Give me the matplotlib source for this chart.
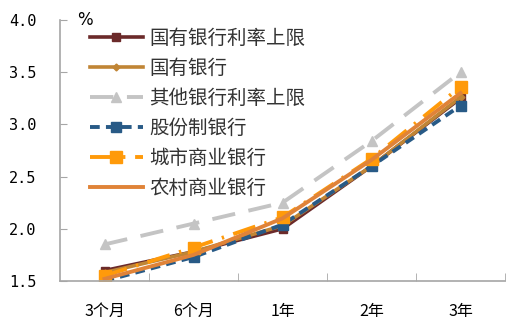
import matplotlib
matplotlib.use("Agg")
import matplotlib.pyplot as plt
from matplotlib.ticker import FixedLocator, MultipleLocator

plt.rcParams['font.family'] = ['Noto Sans CJK SC', 'DejaVu Sans']

categories = ["3个月", "6个月", "1年", "2年", "3年"]
state_cap = [1.60, 1.78, 2.00, 2.60, 3.25]
state_banks = [1.58, 1.78, 2.03, 2.60, 3.26]
other_cap = [1.85, 2.05, 2.25, 2.84, 3.50]
joint_stock = [1.50, 1.73, 2.04, 2.60, 3.18]
city_banks = [1.55, 1.82, 2.11, 2.67, 3.36]
rural_banks = [1.52, 1.75, 2.10, 2.66, 3.30]

series = [
    ("国有银行利率上限", state_cap, dict(color="#6B2A2A", lw=2.6, ls="-", marker="s", ms=6)),
    ("国有银行", state_banks, dict(color="#C08535", lw=2.6, ls="-", marker="D", ms=3.5)),
    ("其他银行利率上限", other_cap, dict(color="#C4C4C4", lw=2.8, ls=(0, (6, 3.5)), marker="^", ms=7)),
    ("股份制银行", joint_stock, dict(color="#285A86", lw=2.8, ls=(0, (2.5, 1.6)), marker="s", ms=7)),
    ("城市商业银行", city_banks, dict(color="#FF9A0A", lw=2.8, ls=(0, (6, 2.5, 0.6, 2.5)), marker="s", ms=8)),
    ("农村商业银行", rural_banks, dict(color="#E08338", lw=2.8, ls="-")),
]

fig = plt.figure(figsize=(5.16, 3.32), dpi=100)
ax = fig.add_axes([60 / 516, 51 / 332, 445 / 516, 261 / 332])

x = list(range(len(categories)))
for label, vals, style in series:
    ax.plot(x, vals, label=label, **style)

ax.set_xlim(-0.5, len(categories) - 0.5)
ax.set_ylim(1.5, 4.0)
ax.yaxis.set_major_locator(MultipleLocator(0.5))
ax.yaxis.set_major_formatter(matplotlib.ticker.FormatStrFormatter("%.1f"))

ax.set_xticks(x)
ax.set_xticklabels(categories)
ax.xaxis.set_minor_locator(FixedLocator([i + 0.5 for i in x]))
ax.tick_params(axis="x", which="major", length=0, pad=16, labelsize=11.5)
ax.tick_params(axis="x", which="minor", direction="in", length=6, color="#A6A6A6")
ax.tick_params(axis="y", direction="in", length=5, color="#A6A6A6", labelsize=11, pad=17)
for lbl in ax.get_yticklabels():
    lbl.set_family(["DejaVu Sans Mono"])

for side in ("top", "right"):
    ax.spines[side].set_visible(False)
for side in ("left", "bottom"):
    ax.spines[side].set_color("#A6A6A6")
    ax.spines[side].set_linewidth(1.2)

ax.text(85 / 516, 1 - 20 / 332, "%", transform=fig.transFigure, fontsize=12,
        ha="center", va="center", family=["DejaVu Sans"])

leg = ax.legend(loc="upper left", bbox_to_anchor=(30 / 445, 1 - 8 / 261), frameon=False,
                fontsize=14, handlelength=2.7, handletextpad=0.35, labelspacing=0.46,
                borderaxespad=0, borderpad=0)
for t in leg.get_texts():
    t.set_color("#333333")

fig.savefig("out.png", dpi=100)
